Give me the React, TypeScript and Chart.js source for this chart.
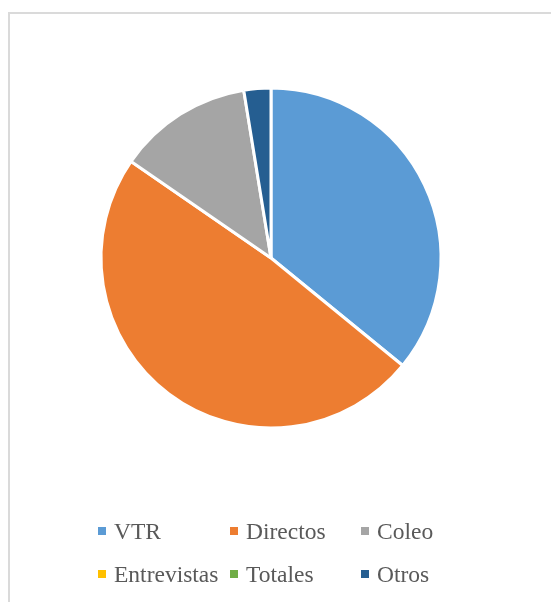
import React, { useEffect, useRef } from "react";
import { Chart, registerables } from "chart.js";

Chart.register(...registerables);

const categories = ["VTR", "Directos", "Coleo", "Entrevistas", "Totales", "Otros"];
const values = [14, 19, 5, 0, 0, 1];
const colors = ["#5B9BD5", "#ED7D31", "#A5A5A5", "#FFC000", "#70AD47", "#255E91"];

const W = 551;
const H = 602;

const framePlugin = {
  id: "frame",
  beforeDraw(chart: any) {
    const ctx = chart.ctx;
    ctx.save();
    ctx.fillStyle = "#ffffff";
    ctx.fillRect(0, 0, W, H);
    ctx.fillStyle = "#dadada";
    ctx.fillRect(8, 12, W - 8, 2);
    ctx.fillRect(8, 12, 2, H - 12);
    ctx.restore();
  },
};

const legendPlugin = {
  id: "excelLegend",
  afterDraw(chart: any) {
    const ctx = chart.ctx;
    const labels: string[] = chart.data.labels;
    const bg: string[] = chart.data.datasets[0].backgroundColor;
    const colX = [98, 230, 361];
    const rowY = [539, 582];
    ctx.save();
    ctx.font = "23.5px 'Liberation Serif', 'Times New Roman', serif";
    ctx.textBaseline = "alphabetic";
    ctx.textAlign = "left";
    labels.forEach((lab, i) => {
      const c = i % 3;
      const r = Math.floor(i / 3);
      const x = colX[c];
      const y = rowY[r];
      ctx.fillStyle = bg[i];
      ctx.fillRect(x, y - 12, 8, 8);
      ctx.fillStyle = "#595959";
      ctx.fillText(lab, x + 16, y);
    });
    ctx.restore();
  },
};

export default function App() {
  const ref = useRef<HTMLCanvasElement | null>(null);
  useEffect(() => {
    if (!ref.current) return;
    const chart = new Chart(ref.current, {
      type: "pie",
      data: {
        labels: categories,
        datasets: [
          {
            data: values,
            backgroundColor: colors,
            borderColor: "#ffffff",
            borderWidth: 3,
          },
        ],
      },
      options: {
        responsive: false,
        animation: false,
        radius: 170,
        layout: { padding: { left: 0, right: 9, top: 0, bottom: 86 } },
        plugins: {
          legend: { display: false },
          tooltip: { enabled: false },
          title: { display: false },
        },
      } as any,
      plugins: [framePlugin, legendPlugin],
    });
    return () => chart.destroy();
  }, []);
  return (
    <div style={{ position: "fixed", left: 0, top: 0, width: W, height: H }}>
      <canvas ref={ref} width={W} height={H} style={{ width: W, height: H, display: "block" }} />
    </div>
  );
}
